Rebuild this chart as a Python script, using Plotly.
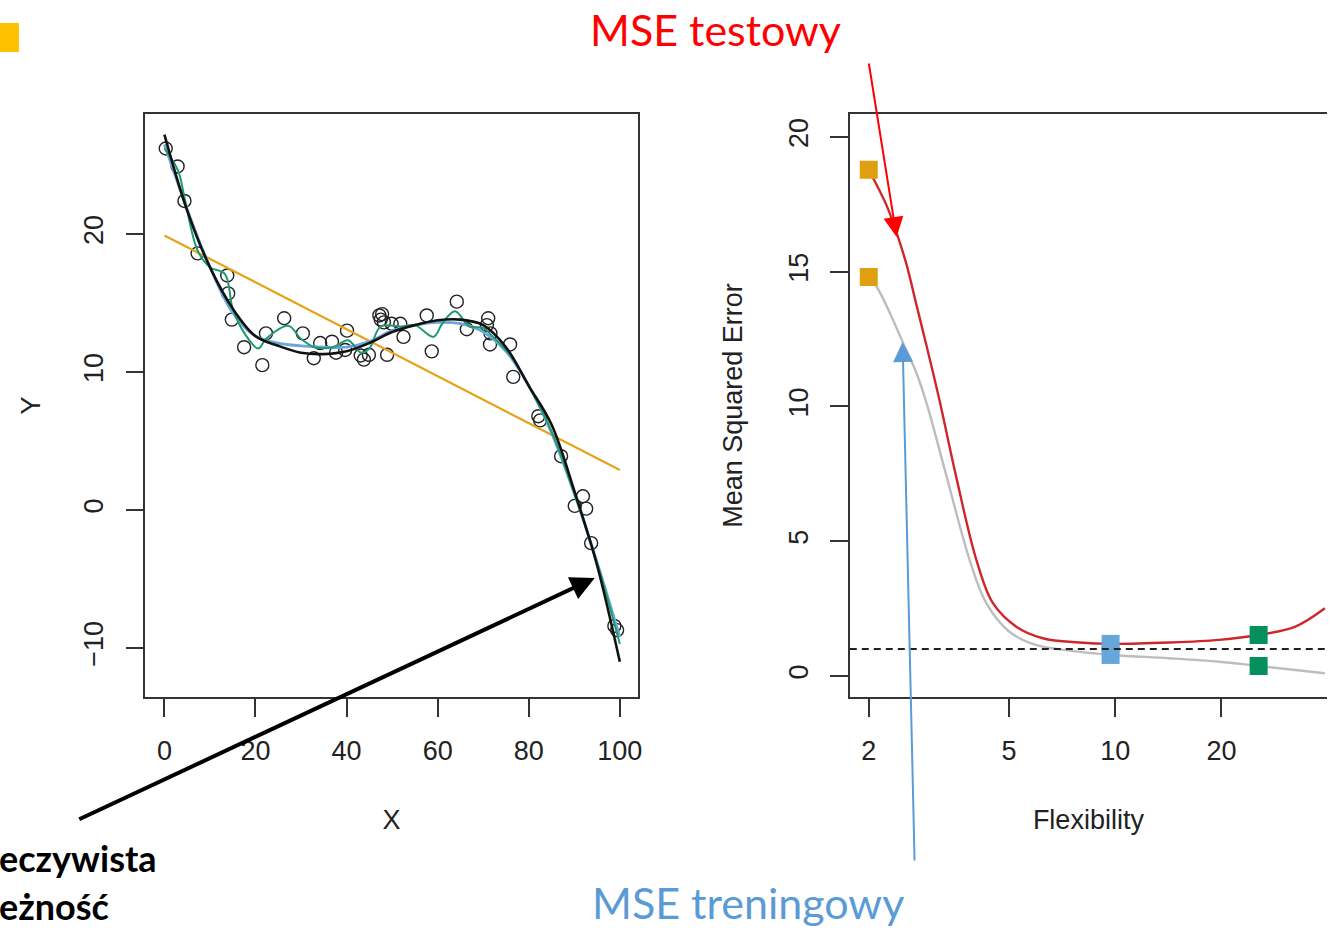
import plotly.graph_objects as go

# ---------------- Left panel: simulated data and fits ----------------
X_PTS = [0.3, 2.9, 4.4, 7.3, 13.8, 14.0, 14.8, 17.5, 21.5, 22.3, 26.3, 30.4,
         32.8, 34.2, 36.8, 37.7, 39.7, 40.1, 43.1, 43.8, 44.9, 47.2, 47.5,
         47.8, 48.2, 48.9, 49.9, 51.8, 52.5, 57.6, 58.7, 64.2, 66.4, 70.8,
         71.1, 71.6, 71.5, 75.9, 76.6, 82.1, 82.5, 87.1, 90.1, 91.9, 92.6,
         93.7, 98.8, 99.4]
Y_PTS = [26.2, 24.9, 22.4, 18.6, 17.0, 15.7, 13.8, 11.8, 10.5, 12.8, 13.9, 12.8,
         11.0, 12.1, 12.2, 11.4, 11.6, 13.0, 11.2, 10.9, 11.25, 14.1, 13.8,
         14.2, 13.6, 11.25, 13.5, 13.5, 12.55, 14.1, 11.5, 15.1, 13.1, 13.4,
         13.9, 12.8, 12.0, 12.0, 9.65, 6.8, 6.5, 3.9, 0.3, 1.0, 0.1,
         -2.4, -8.4, -8.7]

TRUE_X = [0, 5, 10, 15, 20, 25, 30, 35, 40, 45, 50, 55, 60, 65, 70, 75, 80,
          85, 90, 95, 100]
TRUE_Y = [27.2, 21.7, 17.6, 14.6, 12.6, 11.9, 11.4, 11.3, 11.5, 12.1, 12.9,
          13.4, 13.75, 13.8, 13.4, 11.8, 9.0, 6.2, 1.4, -4.0, -11.0]

LIN_X = [0, 100]
LIN_Y = [19.9, 2.9]

SMOOTH_X = [0, 5, 10, 15, 20, 25, 30, 35, 40, 45, 50, 55, 60, 65, 70, 75, 80,
            85, 90, 95, 100]
SMOOTH_Y = [26.5, 21.8, 17.6, 14.3, 12.6, 12.1, 11.9, 11.8, 11.8, 12.2, 13.0,
            13.4, 13.6, 13.5, 12.9, 11.5, 9.0, 5.6, 1.2, -3.8, -9.2]

WIGGLY_X = [0, 3, 4.5, 7.3, 10, 13.3, 15, 17.7, 20.6, 22.3, 27.2, 30, 33, 37,
            40.3, 43.2, 45, 47.5, 52, 55, 59.1, 61, 63.8, 67, 70, 72, 76, 80,
            85, 90, 95, 100]
WIGGLY_Y = [26.2, 24.6, 22.5, 18.8, 17.6, 17.1, 14.6, 12.75, 11.7, 12.4, 13.35,
            12.4, 11.8, 11.8, 12.3, 11.4, 11.7, 13.3, 13.3, 13.4, 12.55, 13.5,
            14.4, 13.3, 13.2, 12.6, 11.2, 9.0, 5.7, 1.2, -3.8, -9.7]

LEFT_XTICKS = [0, 20, 40, 60, 80, 100]
LEFT_YTICKS = [-10, 0, 10, 20]

# ---------------- Right panel: MSE vs flexibility ----------------
FLEX_TEST = [2.0, 2.248, 2.40, 2.561, 2.733, 2.917, 3.174, 3.545, 4.04, 4.50,
             5.24, 6.23, 7.91, 9.82, 14.2, 19.7, 25.5, 32.4, 39.3]
MSE_TEST = [18.78, 17.45, 16.44, 15.25, 13.75, 12.25, 10.23, 7.35, 4.30, 2.70,
            1.83, 1.40, 1.24, 1.19, 1.24, 1.34, 1.52, 1.83, 2.51]
FLEX_TRAIN = [2.0, 2.106, 2.297, 2.506, 2.733, 2.917, 3.322, 3.866, 4.31, 5.01,
              5.96, 7.41, 9.82, 14.2, 19.7, 25.5, 39.3]
MSE_TRAIN = [14.8, 14.44, 13.46, 12.34, 11.23, 10.12, 7.42, 4.30, 2.70, 1.64,
             1.15, 0.94, 0.78, 0.66, 0.53, 0.37, 0.10]
MARK_FLEX = [2.0, 9.7, 25.5]
MARK_TEST = [18.78, 1.19, 1.52]
MARK_TRAIN = [14.8, 0.78, 0.37]
MARK_COLORS = ["#E09F10", "#67A6DB", "#058F5E"]
IRREDUCIBLE = 1.0
RIGHT_XTICKS = [2, 5, 10, 20]
RIGHT_YTICKS = [0, 5, 10, 15, 20]

W, H = 1332, 932
AXFONT = dict(family="Liberation Sans, Arial, sans-serif", size=27, color="#222")
LINEC = "#333"

fig = go.Figure()

# left traces
fig.add_trace(go.Scatter(x=X_PTS, y=Y_PTS, mode="markers", xaxis="x", yaxis="y",
                         marker=dict(symbol="circle-open", size=13, color="#222",
                                     line=dict(width=1.4, color="#222"))))
fig.add_trace(go.Scatter(x=LIN_X, y=LIN_Y, mode="lines", xaxis="x", yaxis="y",
                         line=dict(color="#E8A21A", width=2.2)))
fig.add_trace(go.Scatter(x=SMOOTH_X, y=SMOOTH_Y, mode="lines", xaxis="x", yaxis="y",
                         line=dict(color="#6AA8DC", width=2.8, shape="spline")))
fig.add_trace(go.Scatter(x=WIGGLY_X, y=WIGGLY_Y, mode="lines", xaxis="x", yaxis="y",
                         line=dict(color="#1F9A6F", width=2.0, shape="spline")))
fig.add_trace(go.Scatter(x=TRUE_X, y=TRUE_Y, mode="lines", xaxis="x", yaxis="y",
                         line=dict(color="#111", width=2.6, shape="spline")))

# right traces
fig.add_trace(go.Scatter(x=FLEX_TRAIN, y=MSE_TRAIN, mode="lines", xaxis="x2", yaxis="y2",
                         line=dict(color="#BDBDBD", width=2.4, shape="spline")))
fig.add_trace(go.Scatter(x=FLEX_TEST, y=MSE_TEST, mode="lines", xaxis="x2", yaxis="y2",
                         line=dict(color="#D0262B", width=2.4, shape="spline")))
fig.add_trace(go.Scatter(x=MARK_FLEX, y=MARK_TRAIN, mode="markers", xaxis="x2", yaxis="y2",
                         marker=dict(symbol="square", size=18, color=MARK_COLORS)))
fig.add_trace(go.Scatter(x=MARK_FLEX, y=MARK_TEST, mode="markers", xaxis="x2", yaxis="y2",
                         marker=dict(symbol="square", size=18, color=MARK_COLORS)))

fig.add_shape(type="line", xref="x2 domain", x0=0, x1=1, yref="y2",
              y0=IRREDUCIBLE, y1=IRREDUCIBLE,
              line=dict(color="#222", width=2, dash="7px,5px"))

ydom = [1 - 697 / H, 1 - 114 / H]
common = dict(showgrid=False, zeroline=False, showline=True, linecolor=LINEC,
              linewidth=1.8, ticks="outside", ticklen=18, tickwidth=1.5,
              tickcolor=LINEC, tickfont=AXFONT, title_font=AXFONT)

fig.update_layout(
    width=W, height=H, margin=dict(l=0, r=0, t=0, b=0),
    paper_bgcolor="white", plot_bgcolor="white", showlegend=False,
    xaxis=dict(domain=[146 / W, 640 / W], range=[-4.16, 103.9], mirror=True,
               tickvals=LEFT_XTICKS, ticklabelstandoff=11,
               title=dict(text="X", standoff=45), **common),
    yaxis=dict(domain=ydom, range=[-13.55, 28.7], mirror=True,
               tickvals=LEFT_YTICKS, tickangle=-90, ticklabelstandoff=12,
               title=dict(text="Y", standoff=30), **common),
    xaxis2=dict(domain=[853 / W, 1.0], type="log", range=[0.2473, 1.6004],
                mirror=True, anchor="y2", tickvals=RIGHT_XTICKS,
                ticktext=[str(v) for v in RIGHT_XTICKS], ticklabelstandoff=11,
                title=dict(text="Flexibility", standoff=45), **common),
    yaxis2=dict(domain=ydom, range=[-0.78, 20.85], anchor="x2",
                tickvals=RIGHT_YTICKS, tickangle=-90, ticklabelstandoff=11,
                title=dict(text="Mean Squared Error", standoff=34), **common),
)

# slide decoration
fig.add_shape(type="rect", xref="paper", yref="paper", x0=0, x1=19 / W,
              y0=1 - 52 / H, y1=1 - 23 / H, fillcolor="#FFC000", line_width=0)

SLIDE = "Lato, Carlito, sans-serif"
fig.add_annotation(xref="paper", yref="paper", x=718 / W, y=1 - 30 / H,
                   xanchor="center", yanchor="middle",
                   text="MSE testowy", showarrow=False,
                   font=dict(family=SLIDE, size=43, color="#FF0000"))
fig.add_annotation(xref="paper", yref="paper", x=751 / W, y=1 - 902 / H,
                   xanchor="center", yanchor="middle", borderpad=0,
                   text="MSE treningowy", showarrow=False,
                   font=dict(family=SLIDE, size=43, color="#5B9BD5"))
fig.add_annotation(xref="paper", yref="paper", x=-3 / W, y=1 - 858 / H,
                   xanchor="left", yanchor="middle",
                   text="<b>eczywista</b>", showarrow=False,
                   font=dict(family=SLIDE, size=36, color="#000"))
fig.add_annotation(xref="paper", yref="paper", x=-3 / W, y=1 - 906 / H,
                   xanchor="left", yanchor="middle",
                   text="<b>eżność</b>", showarrow=False,
                   font=dict(family=SLIDE, size=36, color="#000"))

# arrows (head at x,y; tail offset in pixels)
fig.add_annotation(xref="paper", yref="paper", x=900 / W, y=1 - 237 / H,
                   ax=-28, ay=-175, axref="pixel", ayref="pixel", text="",
                   showarrow=True, arrowhead=2, arrowsize=2.0, arrowwidth=2,
                   arrowcolor="#FF0000", standoff=0)
fig.add_annotation(xref="paper", yref="paper", x=906 / W, y=1 - 342 / H,
                   ax=12, ay=520, axref="pixel", ayref="pixel", text="",
                   showarrow=True, arrowhead=2, arrowsize=2.0, arrowwidth=2,
                   arrowcolor="#5B9BD5", standoff=0)
fig.add_annotation(xref="paper", yref="paper", x=597 / W, y=1 - 578 / H,
                   ax=-517, ay=242, axref="pixel", ayref="pixel", text="",
                   showarrow=True, arrowhead=2, arrowsize=1.2, arrowwidth=4,
                   arrowcolor="#000", standoff=0)

fig.write_html("out.html")
